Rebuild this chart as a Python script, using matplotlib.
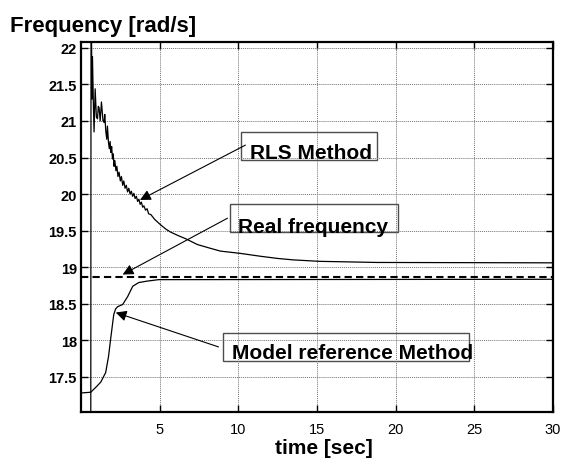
import matplotlib
matplotlib.use('Agg')
import matplotlib.pyplot as plt
from matplotlib.patches import Rectangle

plt.rcParams['font.family'] = ['Liberation Sans', 'DejaVu Sans']

# RLS estimate
rls_t = [0.62, 0.64, 0.70, 0.73, 0.78, 0.83, 0.90, 0.98, 1.05, 1.10, 1.15, 1.22, 1.30,
         1.40, 1.47, 1.51, 1.58, 1.64, 1.68, 1.75, 1.80, 1.85, 1.90, 1.95, 2.00, 2.05,
         2.10, 2.15, 2.22, 2.28, 2.35, 2.42, 2.50, 2.57, 2.65, 2.72, 2.80, 2.88, 2.96,
         3.04, 3.12, 3.20, 3.28, 3.36, 3.44, 3.52, 3.60, 3.68, 3.76, 3.84, 3.92, 4.00,
         4.10, 4.20, 4.30, 4.44, 4.70, 5.06, 5.40, 5.70, 6.20, 6.65, 7.40, 8.20, 8.87,
         10.1, 11.4, 12.5, 13.5, 15.2, 16.5, 18.8, 30.0]
rls_w = [16.0, 23.0, 21.30, 21.88, 21.30, 20.85, 21.44, 21.05, 21.03, 21.20, 21.18, 21.00,
         21.26, 21.00, 20.98, 21.09, 20.85, 20.75, 20.93, 20.70, 20.62, 20.72, 20.57, 20.65,
         20.48, 20.55, 20.38, 20.46, 20.32, 20.38, 20.24, 20.30, 20.18, 20.24, 20.12, 20.18,
         20.08, 20.12, 20.03, 20.08, 20.00, 20.04, 19.97, 20.01, 19.94, 19.97, 19.90, 19.93,
         19.86, 19.89, 19.82, 19.84, 19.78, 19.80, 19.73, 19.72, 19.65, 19.58, 19.52, 19.48,
         19.43, 19.39, 19.31, 19.26, 19.22, 19.19, 19.15, 19.12, 19.10, 19.08, 19.075,
         19.065, 19.06]

# model reference estimate
mr_t = [0.0, 0.62, 1.0, 1.26, 1.57, 1.75, 1.88, 2.08, 2.2, 2.33, 2.65, 2.97, 3.29, 3.67,
        4.2, 4.94, 30.0]
mr_w = [17.28, 17.29, 17.37, 17.43, 17.56, 17.78, 18.01, 18.35, 18.43, 18.46, 18.49,
        18.60, 18.74, 18.79, 18.81, 18.83, 18.835]

# real frequency
real_t = [0.0, 30.0]
real_w = [18.86, 18.86]

xticks = [5, 10, 15, 20, 25, 30]
yticks = [17.5, 18, 18.5, 19, 19.5, 20, 20.5, 21, 21.5, 22]

fig = plt.figure(figsize=(5.64, 4.6), dpi=100)
ax = fig.add_axes([0.1436, 0.1022, 0.8369, 0.8043])

ax.plot(rls_t, rls_w, color='k', lw=0.9)
ax.plot(mr_t, mr_w, color='k', lw=0.9)
ax.plot(real_t, real_w, color='k', lw=1.5, ls=(0, (3.5, 2)))

ax.set_xlim(0, 30)
ax.set_ylim(17.02, 22.08)
ax.set_xticks(xticks)
ax.set_xticklabels([str(v) for v in xticks], fontsize=10.5)
ax.set_yticks(yticks)
ax.set_yticklabels(['%g' % v for v in yticks], fontsize=10.5, fontweight='bold')
ax.tick_params(direction='in', top=True, right=True, length=5, width=1)
ax.tick_params(axis='x', pad=7)
ax.tick_params(axis='y', pad=3)
ax.grid(True, color='0.45', ls=(0, (1, 1)), lw=0.7)
for s in ax.spines.values():
    s.set_linewidth(1.6)

# annotations: boxes, labels, arrows
boxes = [(10.2, 20.46, 8.63, 0.39), (9.44, 19.48, 10.72, 0.38), (9.0, 17.72, 15.67, 0.38)]
for x0, y0, w, h in boxes:
    ax.add_patch(Rectangle((x0, y0), w, h, fill=False, ec='0.3', lw=1))

ax.text(10.77, 20.49, 'RLS Method', fontsize=15, fontweight='bold', va='baseline')
ax.text(9.95, 19.48, 'Real frequency', fontsize=15, fontweight='bold', va='baseline')
ax.text(9.57, 17.76, 'Model reference Method', fontsize=15, fontweight='bold', va='baseline')

arrow = dict(arrowstyle='-|>', color='k', lw=0.8, mutation_scale=16, shrinkA=0, shrinkB=0)
ax.annotate('', xy=(3.75, 19.92), xytext=(10.45, 20.67), arrowprops=arrow)
ax.annotate('', xy=(2.65, 18.90), xytext=(9.31, 19.67), arrowprops=arrow)
ax.annotate('', xy=(2.21, 18.38), xytext=(8.74, 17.91), arrowprops=arrow)

fig.text(0.0177, 0.93, 'Frequency [rad/s]', fontsize=16, fontweight='bold', va='baseline')
fig.text(0.574, 0.013, 'time [sec]', fontsize=15, fontweight='bold', ha='center', va='baseline')

fig.savefig('out.png', dpi=100)
